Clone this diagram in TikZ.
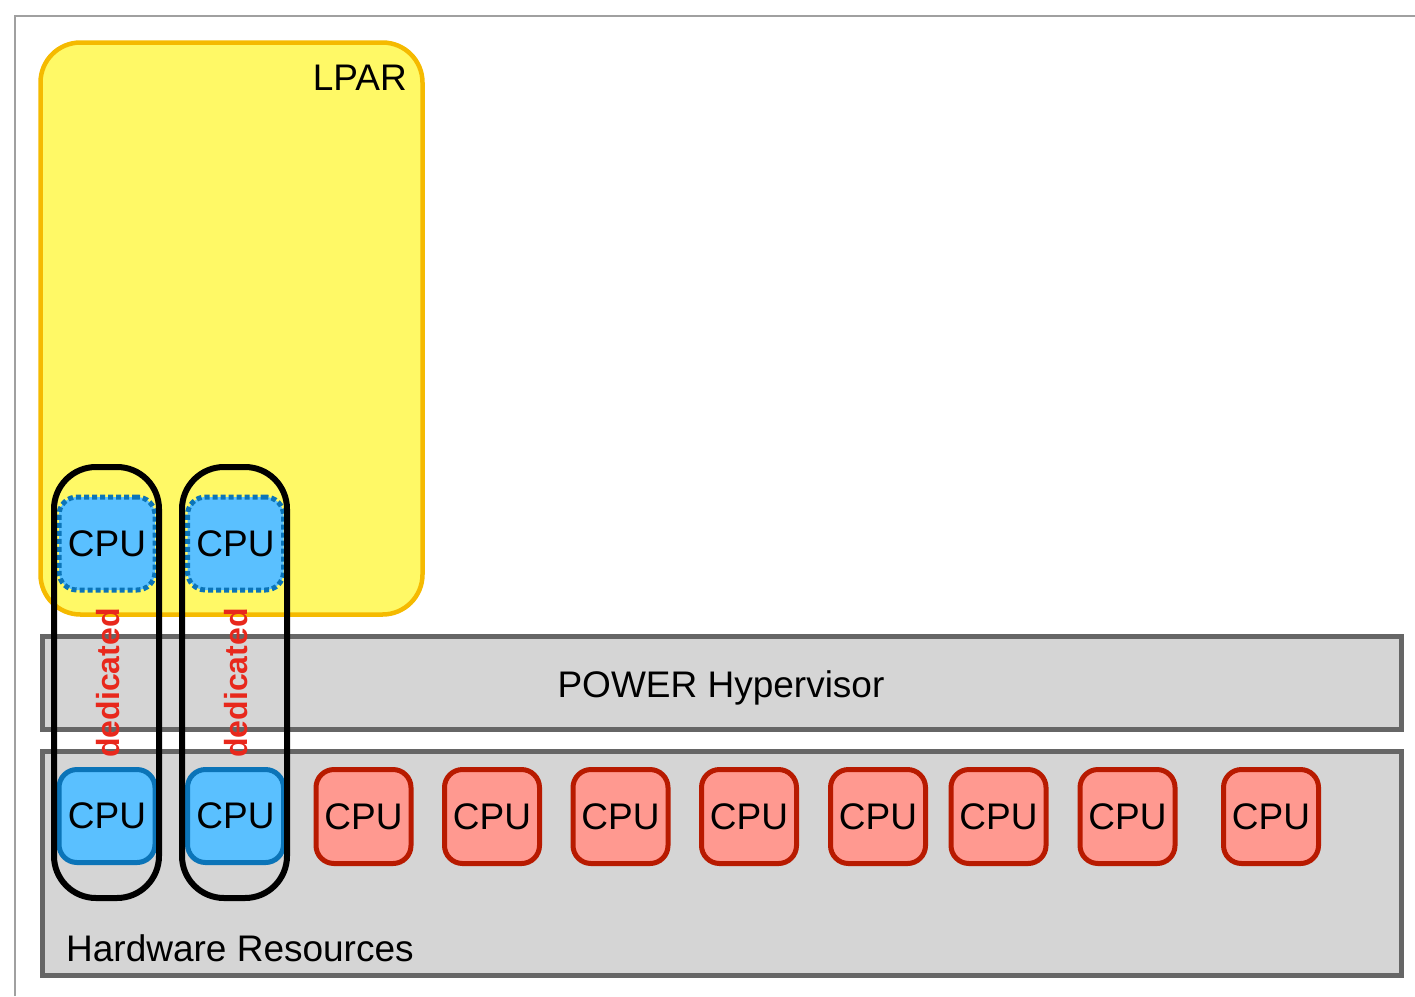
\documentclass[tikz,border=0pt]{standalone}
\usepackage{fontspec}
\setmainfont{Liberation Sans}
\definecolor{lparfill}{HTML}{FFF966}
\definecolor{lparline}{HTML}{F5BA00}
\definecolor{layerfill}{HTML}{D5D5D5}
\definecolor{layerline}{HTML}{666666}
\definecolor{vcpufill}{HTML}{5AC0FF}
\definecolor{vcpuline}{HTML}{0B74B8}
\definecolor{pcpufill}{HTML}{FF9990}
\definecolor{pcpuline}{HTML}{B81A00}
\definecolor{dedred}{HTML}{E8281C}
\definecolor{framegray}{HTML}{A0A0A0}
\tikzset{
  lbl/.style={font=\fontsize{37}{37}\selectfont, text=black},
  layer/.style={draw=layerline, fill=layerfill, line width=5pt, inner sep=0pt},
  cpubase/.style={lbl, rounded corners=18pt, line width=5pt, inner sep=0pt,
    minimum width=96pt, minimum height=93pt},
  vcpu/.style={cpubase, draw=vcpuline, fill=vcpufill, line width=5pt,
    dash pattern=on 5pt off 3pt},
  dcpu/.style={cpubase, draw=vcpuline, fill=vcpufill},
  pcpu/.style={cpubase, draw=pcpuline, fill=pcpufill, minimum width=95pt, minimum height=94pt},
  bind/.style={draw=black, line width=6pt, rounded corners=42pt, inner sep=0pt,
    minimum width=105pt, minimum height=431pt},
  dedlbl/.style={font=\bfseries\fontsize{32}{32}\selectfont, text=dedred, rotate=90, inner sep=0pt},
}
\begin{document}
\begin{tikzpicture}[x=1pt, y=-1pt]
  \useasboundingbox (0,0) rectangle (1415,996);
  % page frame
  \draw[framegray, line width=2.5pt] (15,996) -- (15,16) -- (1415,16);

  % logical partition
  \node[draw=lparline, fill=lparfill, line width=4.5pt, rounded corners=40pt,
        minimum width=382pt, minimum height=572pt, inner sep=0pt] (lpar) at (231.5,328.5) {};
  \node[lbl, anchor=base east, inner sep=0pt] (lparlbl) at (407,90) {LPAR};

  % hypervisor and hardware layers
  \node[layer, minimum width=1359pt, minimum height=93pt] (hyp) at (721.5,682.5) {};
  \node[lbl, anchor=base, inner sep=0pt] (hyplbl) at (721,697) {POWER Hypervisor};
  \node[layer, minimum width=1359pt, minimum height=224pt] (hw) at (721.5,863) {};
  \node[lbl, anchor=base west, inner sep=0pt] (hwlbl) at (66,961) {Hardware Resources};

  % virtual processors of the partition
  \node[vcpu] (v1) at (107,543.5) {CPU};
  \node[vcpu] (v2) at (235.5,543.5) {CPU};

  % physical processors
  \node[dcpu] (p1) at (107,816) {CPU};
  \node[dcpu] (p2) at (235.5,816) {CPU};
  \node[pcpu] (p3) at (363.5,816.5) {CPU};
  \node[pcpu] (p4) at (492,816.5) {CPU};
  \node[pcpu] (p5) at (620.5,816.5) {CPU};
  \node[pcpu] (p6) at (749,816.5) {CPU};
  \node[pcpu] (p7) at (878,816.5) {CPU};
  \node[pcpu] (p8) at (998.5,816.5) {CPU};
  \node[pcpu] (p9) at (1127.5,816.5) {CPU};
  \node[pcpu] (p10) at (1271,816.5) {CPU};

  % dedicated bindings
  \node[bind] (b1) at (106.5,682.5) {};
  \node[bind] (b2) at (234.5,682.5) {};
  \node[dedlbl] (d1) at (108,683) {dedicated};
  \node[dedlbl] (d2) at (236,683) {dedicated};
\end{tikzpicture}
\end{document}
